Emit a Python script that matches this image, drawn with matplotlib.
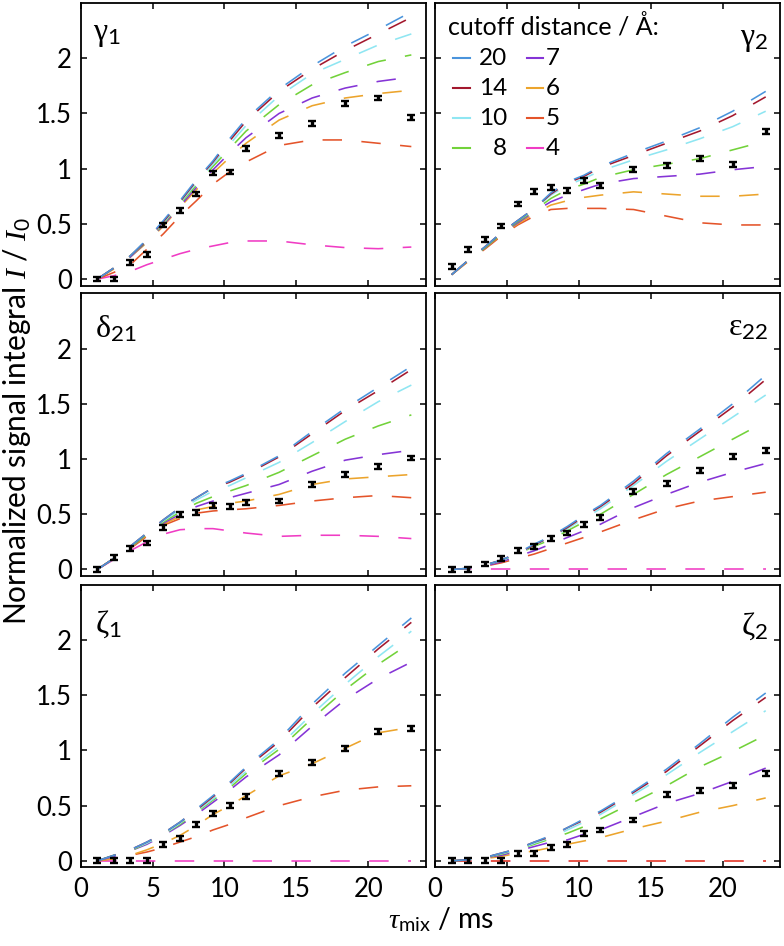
import matplotlib
matplotlib.use("Agg")
import matplotlib.pyplot as plt

plt.rcParams['font.family'] = ['Lato', 'DejaVu Sans']
plt.rcParams['mathtext.fontset'] = 'custom'
plt.rcParams['mathtext.rm'] = 'Liberation Serif'
plt.rcParams['mathtext.it'] = 'Liberation Serif:italic'
plt.rcParams['mathtext.sf'] = 'Lato'
plt.rcParams['lines.scale_dashes'] = False

# mixing times (ms)
t_mix = [1.15, 2.3, 3.45, 4.6, 5.75, 6.9, 8.05, 9.2, 10.35, 11.5, 13.8, 16.1, 18.4, 20.7, 23.0]

cutoffs = ['20', '14', '10', '8', '7', '6', '5', '4']
colors = ['#4a94dc', '#a3182e', '#8fe6f2', '#72d23a', '#8534d6', '#eca42c', '#e4542a', '#f03cc4']

# experimental integrals
gamma1_exp = [0.0, 0.0, 0.15, 0.22, 0.49, 0.62, 0.77, 0.96, 0.97, 1.18, 1.30, 1.41, 1.59, 1.64, 1.46]
gamma2_exp = [0.11, 0.27, 0.36, 0.48, 0.68, 0.79, 0.83, 0.80, 0.89, 0.85, 0.99, 1.03, 1.09, 1.04, 1.34]
delta21_exp = [0.0, 0.11, 0.19, 0.24, 0.38, 0.50, 0.52, 0.58, 0.57, 0.61, 0.62, 0.77, 0.86, 0.93, 1.01]
eps22_exp = [0.0, 0.0, 0.05, 0.10, 0.17, 0.21, 0.28, 0.33, 0.41, 0.47, 0.71, 0.78, 0.90, 1.02, 1.08]
zeta1_exp = [0.0, 0.0, 0.0, 0.0, 0.15, 0.20, 0.33, 0.43, 0.50, 0.58, 0.79, 0.89, 1.02, 1.17, 1.20]
zeta2_exp = [0.0, 0.0, 0.0, 0.0, 0.07, 0.065, 0.12, 0.145, 0.25, 0.28, 0.37, 0.60, 0.64, 0.68, 0.79]
ERR = 0.022

# simulated curves, one row per cutoff (20, 14, 10, 8, 7, 6, 5, 4 A); None = not shown
gamma1_sim = [
    [0.0, 0.10, 0.21, 0.36, 0.53, 0.71, 0.90, 1.07, 1.27, 1.45, 1.72, 1.93, 2.11, 2.26, 2.42],
    [0.0, 0.10, 0.21, 0.35, 0.52, 0.70, 0.89, 1.06, 1.25, 1.43, 1.70, 1.90, 2.07, 2.22, 2.37],
    [0.0, 0.10, 0.21, 0.35, 0.51, 0.69, 0.87, 1.04, 1.22, 1.39, 1.66, 1.86, 1.99, 2.12, 2.22],
    [0.0, 0.10, 0.21, 0.34, 0.50, 0.68, 0.85, 1.02, 1.18, 1.34, 1.58, 1.76, 1.87, 1.97, 2.03],
    [0.0, 0.10, 0.20, 0.34, 0.49, 0.66, 0.83, 0.99, 1.14, 1.28, 1.50, 1.64, 1.73, 1.79, 1.83],
    [0.0, 0.09, 0.20, 0.33, 0.48, 0.65, 0.81, 0.96, 1.10, 1.23, 1.44, 1.57, 1.64, 1.68, 1.71],
    [0.0, 0.06, 0.13, 0.27, 0.41, 0.57, 0.71, 0.86, 0.97, 1.06, 1.21, 1.26, 1.26, 1.23, 1.20],
    [0.0, 0.03, 0.07, 0.13, 0.18, 0.23, 0.27, 0.30, 0.33, 0.345, 0.345, 0.31, 0.285, 0.275, 0.29],
]
gamma2_sim = [
    [0.04, 0.17, 0.29, 0.42, 0.53, 0.64, 0.78, 0.88, 0.94, 1.02, 1.14, 1.25, 1.37, 1.52, 1.70],
    [0.04, 0.17, 0.29, 0.42, 0.53, 0.64, 0.77, 0.87, 0.93, 1.01, 1.12, 1.23, 1.34, 1.48, 1.65],
    [0.04, 0.17, 0.29, 0.42, 0.53, 0.63, 0.76, 0.85, 0.91, 0.98, 1.08, 1.17, 1.27, 1.38, 1.52],
    [0.04, 0.17, 0.28, 0.41, 0.52, 0.62, 0.73, 0.81, 0.86, 0.92, 0.99, 1.04, 1.09, 1.17, 1.25],
    [0.04, 0.17, 0.28, 0.41, 0.51, 0.61, 0.70, 0.76, 0.81, 0.86, 0.91, 0.93, 0.95, 0.99, 1.02],
    [0.04, 0.16, 0.28, 0.40, 0.50, 0.59, 0.67, 0.71, 0.74, 0.76, 0.79, 0.77, 0.75, 0.75, 0.77],
    [0.04, 0.16, 0.27, 0.39, 0.49, 0.57, 0.63, 0.64, 0.64, 0.64, 0.63, 0.57, 0.51, 0.49, 0.49],
    None,
]
delta21_sim = [
    [0.0, 0.10, 0.21, 0.33, 0.45, 0.56, 0.65, 0.74, 0.80, 0.87, 1.03, 1.25, 1.46, 1.65, 1.84],
    [0.0, 0.10, 0.21, 0.33, 0.45, 0.56, 0.65, 0.74, 0.79, 0.86, 1.02, 1.23, 1.44, 1.62, 1.81],
    [0.0, 0.10, 0.21, 0.33, 0.44, 0.54, 0.63, 0.71, 0.76, 0.83, 0.97, 1.15, 1.34, 1.52, 1.67],
    [0.0, 0.10, 0.20, 0.32, 0.43, 0.52, 0.60, 0.66, 0.71, 0.76, 0.88, 1.03, 1.18, 1.30, 1.40],
    [0.0, 0.10, 0.20, 0.32, 0.42, 0.50, 0.57, 0.62, 0.65, 0.69, 0.77, 0.89, 0.99, 1.04, 1.08],
    [0.0, 0.10, 0.20, 0.31, 0.41, 0.48, 0.54, 0.57, 0.60, 0.62, 0.68, 0.77, 0.82, 0.84, 0.86],
    [0.0, 0.10, 0.19, 0.30, 0.40, 0.46, 0.51, 0.53, 0.54, 0.55, 0.58, 0.62, 0.65, 0.67, 0.65],
    [0.0, 0.09, 0.17, 0.25, 0.32, 0.36, 0.37, 0.37, 0.35, 0.33, 0.30, 0.31, 0.31, 0.30, 0.28],
]
eps22_sim = [
    [0.0, 0.01, 0.04, 0.085, 0.15, 0.23, 0.30, 0.39, 0.49, 0.58, 0.80, 1.05, 1.27, 1.50, 1.76],
    [0.0, 0.01, 0.04, 0.085, 0.15, 0.22, 0.30, 0.38, 0.48, 0.57, 0.78, 1.03, 1.25, 1.47, 1.72],
    [0.0, 0.01, 0.04, 0.08, 0.14, 0.22, 0.29, 0.37, 0.46, 0.55, 0.76, 0.98, 1.18, 1.38, 1.58],
    [0.0, 0.01, 0.04, 0.08, 0.14, 0.21, 0.27, 0.35, 0.43, 0.50, 0.68, 0.86, 1.02, 1.18, 1.34],
    [0.0, 0.01, 0.03, 0.07, 0.12, 0.17, 0.23, 0.29, 0.35, 0.41, 0.56, 0.68, 0.79, 0.88, 0.96],
    None,
    [0.0, 0.01, 0.03, 0.06, 0.10, 0.14, 0.19, 0.24, 0.29, 0.34, 0.45, 0.55, 0.62, 0.66, 0.70],
    [0.0, 0.0, 0.0, 0.0, 0.0, 0.0, 0.0, 0.0, 0.0, 0.0, 0.0, 0.0, 0.0, 0.0, 0.0],
]
zeta1_sim = [
    [0.0, 0.05, 0.10, 0.17, 0.25, 0.35, 0.47, 0.59, 0.71, 0.85, 1.10, 1.42, 1.70, 1.95, 2.20],
    [0.0, 0.05, 0.10, 0.17, 0.25, 0.35, 0.46, 0.58, 0.70, 0.84, 1.08, 1.39, 1.66, 1.92, 2.16],
    [0.0, 0.05, 0.10, 0.16, 0.24, 0.34, 0.45, 0.56, 0.68, 0.81, 1.04, 1.33, 1.60, 1.85, 2.08],
    [0.0, 0.05, 0.09, 0.16, 0.24, 0.33, 0.44, 0.55, 0.66, 0.79, 1.01, 1.29, 1.55, 1.78, 1.98],
    [0.0, 0.04, 0.09, 0.15, 0.23, 0.32, 0.42, 0.53, 0.64, 0.76, 0.96, 1.22, 1.46, 1.65, 1.80],
    [0.0, 0.02, 0.05, 0.10, 0.16, 0.23, 0.32, 0.42, 0.50, 0.59, 0.77, 0.88, 1.02, 1.16, 1.21],
    [0.0, 0.02, 0.05, 0.08, 0.12, 0.17, 0.22, 0.28, 0.33, 0.39, 0.50, 0.58, 0.64, 0.67, 0.68],
    [0.0, 0.0, 0.0, 0.0, 0.0, 0.0, 0.0, 0.0, 0.0, 0.0, 0.0, 0.0, 0.0, 0.0, 0.0],
]
zeta2_sim = [
    [0.0, 0.01, 0.03, 0.07, 0.11, 0.17, 0.23, 0.30, 0.38, 0.45, 0.63, 0.83, 1.06, 1.30, 1.52],
    [0.0, 0.01, 0.03, 0.07, 0.11, 0.17, 0.22, 0.30, 0.37, 0.44, 0.62, 0.81, 1.04, 1.27, 1.48],
    [0.0, 0.01, 0.03, 0.065, 0.10, 0.16, 0.21, 0.28, 0.35, 0.42, 0.60, 0.78, 0.98, 1.17, 1.36],
    [0.0, 0.01, 0.03, 0.06, 0.10, 0.15, 0.20, 0.25, 0.31, 0.38, 0.53, 0.68, 0.85, 0.99, 1.14],
    [0.0, 0.01, 0.03, 0.05, 0.09, 0.13, 0.17, 0.19, 0.24, 0.28, 0.40, 0.52, 0.61, 0.72, 0.84],
    [0.0, 0.01, 0.02, 0.04, 0.07, 0.09, 0.12, 0.15, 0.18, 0.21, 0.29, 0.36, 0.44, 0.50, 0.57],
    [0.0, 0.0, 0.0, 0.0, 0.0, 0.0, 0.0, 0.0, 0.0, 0.0, 0.0, 0.0, 0.0, 0.0, 0.0],
    [0.0, 0.0, 0.0, 0.0, 0.0, 0.0, 0.0, 0.0, 0.0, 0.0, 0.0, 0.0, 0.0, 0.0, 0.0],
]

panels = [
    (r'$\mathrm{\gamma}_{\mathsf{1}}$', gamma1_exp, gamma1_sim),
    (r'$\mathrm{\gamma}_{\mathsf{2}}$', gamma2_exp, gamma2_sim),
    (r'$\mathrm{\delta}_{\mathsf{21}}$', delta21_exp, delta21_sim),
    (r'$\mathrm{\varepsilon}_{\mathsf{22}}$', eps22_exp, eps22_sim),
    (r'$\mathrm{\zeta}_{\mathsf{1}}$', zeta1_exp, zeta1_sim),
    (r'$\mathrm{\zeta}_{\mathsf{2}}$', zeta2_exp, zeta2_sim),
]
label_pos = [(0.035, 0.87), (0.965, 0.85), (0.04, 0.845), (0.965, 0.85), (0.04, 0.83), (0.965, 0.825)]

fig = plt.figure(figsize=(7.84, 9.46), dpi=100)
lefts = [0.103, 0.555]
bottoms = [0.698, 0.391, 0.083]
w, h = 0.440, 0.2988

for i, (name, exp, sims) in enumerate(panels):
    row, col = divmod(i, 2)
    ax = fig.add_axes([lefts[col], bottoms[row], w, h])
    # draw smallest cutoff first so larger cutoffs sit on top
    for k in range(len(cutoffs) - 1, -1, -1):
        if sims[k] is None:
            continue
        ax.plot(t_mix, sims[k], color=colors[k], lw=1.15, dashes=(14, 14))
    ax.errorbar(t_mix, exp, yerr=ERR, fmt='none', ecolor='black',
                elinewidth=2.4, capsize=3, capthick=1.7, zorder=10)
    ax.set_xlim(0, 24)
    ax.set_ylim(-0.06, 2.5)
    ax.set_xticks([0, 5, 10, 15, 20])
    ax.set_yticks([0, 0.5, 1, 1.5, 2])
    ax.set_yticklabels(['0', '0.5', '1', '1.5', '2'])
    ax.tick_params(direction='in', length=4, width=1.1, top=True, right=True,
                   labelsize=18.5)
    ax.tick_params(axis='x', pad=7)
    ax.tick_params(axis='y', pad=6.5)
    if row < 2:
        ax.tick_params(labelbottom=False)
    if col == 1:
        ax.tick_params(labelleft=False)
    for s in ax.spines.values():
        s.set_linewidth(1.3)
    lx, ly = label_pos[i]
    ax.text(lx, ly, name, transform=ax.transAxes, fontsize=23,
            ha='left' if col == 0 else 'right', va='baseline')

    if i == 1:
        # legend box drawn by hand: two columns of four entries
        ax.text(0.037, 0.888, 'cutoff distance / Å:', transform=ax.transAxes,
                fontsize=18, ha='left', va='baseline')
        line_rows = [0.805, 0.699, 0.593, 0.487]
        text_rows = [0.782, 0.676, 0.570, 0.464]
        for k, lab in enumerate(cutoffs):
            c, r = divmod(k, 4)
            if c == 0:
                ax.plot([0.053, 0.101], [line_rows[r]] * 2, transform=ax.transAxes,
                        color=colors[k], lw=1.5)
                ax.text(0.208, text_rows[r], lab, transform=ax.transAxes,
                        fontsize=17.5, ha='right', va='baseline')
            else:
                ax.plot([0.266, 0.313], [line_rows[r]] * 2, transform=ax.transAxes,
                        color=colors[k], lw=1.5)
                ax.text(0.321, text_rows[r], lab, transform=ax.transAxes,
                        fontsize=17.5, ha='left', va='baseline')

fig.text(0.5625, 0.028, r'$\tau_{\mathsf{mix}}$ / ms', fontsize=20.5, ha='center', va='center')
fig.text(0.022, 0.555, r'Normalized signal integral $I$ / $I_{\mathsf{0}}$', fontsize=21.5,
         rotation=90, ha='center', va='center')

fig.savefig('out.png', dpi=100)
